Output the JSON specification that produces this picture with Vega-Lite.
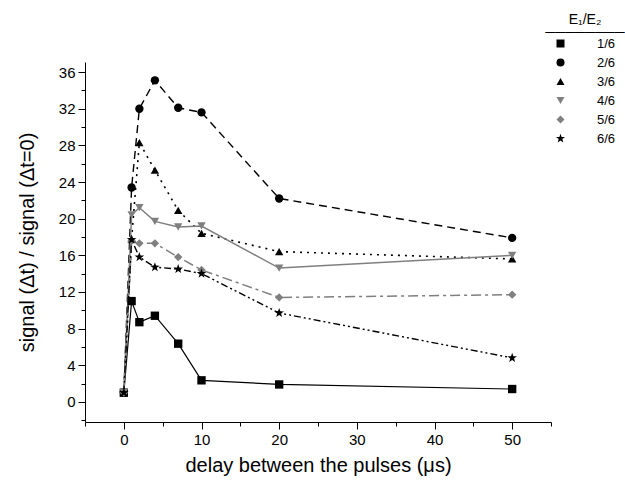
{
  "$schema": "https://vega.github.io/schema/vega-lite/v6.json",
  "width": 466,
  "height": 360,
  "autosize": "none",
  "padding": {"left": 85, "top": 62, "right": 74, "bottom": 59},
  "background": "white",
  "config": {
    "view": {"stroke": null},
    "font": "Liberation Sans",
    "axis": {
      "labelFont": "Liberation Sans",
      "titleFont": "Liberation Sans",
      "labelFontSize": 15,
      "titleFontSize": 20,
      "titleFontWeight": "normal",
      "labelColor": "#000",
      "titleColor": "#000",
      "domainColor": "#000",
      "tickColor": "#000",
      "grid": false
    },
    "legend": {
      "labelFont": "Liberation Sans",
      "titleFont": "Liberation Sans",
      "labelFontSize": 13,
      "titleFontSize": 14,
      "titleFontWeight": "normal",
      "labelColor": "#000",
      "titleColor": "#000"
    }
  },
  "data": {
    "values": [
      {"series": "1/6", "delay": 0, "ratio": 1.0},
      {"series": "1/6", "delay": 1, "ratio": 11.0},
      {"series": "1/6", "delay": 2, "ratio": 8.7},
      {"series": "1/6", "delay": 4, "ratio": 9.4},
      {"series": "1/6", "delay": 7, "ratio": 6.35},
      {"series": "1/6", "delay": 10, "ratio": 2.35},
      {"series": "1/6", "delay": 20, "ratio": 1.9},
      {"series": "1/6", "delay": 50, "ratio": 1.4},
      {"series": "2/6", "delay": 0, "ratio": 1.0},
      {"series": "2/6", "delay": 1, "ratio": 23.4},
      {"series": "2/6", "delay": 2, "ratio": 32.0},
      {"series": "2/6", "delay": 4, "ratio": 35.1},
      {"series": "2/6", "delay": 7, "ratio": 32.1},
      {"series": "2/6", "delay": 10, "ratio": 31.6},
      {"series": "2/6", "delay": 20, "ratio": 22.2},
      {"series": "2/6", "delay": 50, "ratio": 17.9},
      {"series": "3/6", "delay": 0, "ratio": 1.0},
      {"series": "3/6", "delay": 1, "ratio": 17.8},
      {"series": "3/6", "delay": 2, "ratio": 28.3},
      {"series": "3/6", "delay": 4, "ratio": 25.3},
      {"series": "3/6", "delay": 7, "ratio": 20.9},
      {"series": "3/6", "delay": 10, "ratio": 18.4},
      {"series": "3/6", "delay": 20, "ratio": 16.4},
      {"series": "3/6", "delay": 50, "ratio": 15.6},
      {"series": "4/6", "delay": 0, "ratio": 1.0},
      {"series": "4/6", "delay": 1, "ratio": 20.4},
      {"series": "4/6", "delay": 2, "ratio": 21.2},
      {"series": "4/6", "delay": 4, "ratio": 19.7},
      {"series": "4/6", "delay": 7, "ratio": 19.1},
      {"series": "4/6", "delay": 10, "ratio": 19.2},
      {"series": "4/6", "delay": 20, "ratio": 14.6},
      {"series": "4/6", "delay": 50, "ratio": 16.0},
      {"series": "5/6", "delay": 0, "ratio": 1.0},
      {"series": "5/6", "delay": 1, "ratio": 17.6},
      {"series": "5/6", "delay": 2, "ratio": 17.3},
      {"series": "5/6", "delay": 4, "ratio": 17.3},
      {"series": "5/6", "delay": 7, "ratio": 15.8},
      {"series": "5/6", "delay": 10, "ratio": 14.4},
      {"series": "5/6", "delay": 20, "ratio": 11.4},
      {"series": "5/6", "delay": 50, "ratio": 11.7},
      {"series": "6/6", "delay": 0, "ratio": 1.0},
      {"series": "6/6", "delay": 1, "ratio": 17.7},
      {"series": "6/6", "delay": 2, "ratio": 15.8},
      {"series": "6/6", "delay": 4, "ratio": 14.7},
      {"series": "6/6", "delay": 7, "ratio": 14.5},
      {"series": "6/6", "delay": 10, "ratio": 14.0},
      {"series": "6/6", "delay": 20, "ratio": 9.7},
      {"series": "6/6", "delay": 50, "ratio": 4.8}
    ]
  },
  "resolve": {"axis": {"x": "independent", "y": "independent"}},
  "layer": [
    {
      "transform": [{"filter": {"field": "series", "equal": "1/6"}}],
      "mark": {"type": "line", "color": "#000000", "strokeWidth": 1.2},
      "encoding": {
        "x": {
          "field": "delay", "type": "quantitative",
          "scale": {"domain": [-5, 55], "nice": false, "zero": false},
          "axis": {"orient": "bottom", "values": [0, 10, 20, 30, 40, 50], "tickSize": 7, "labelPadding": 3, "title": "delay between the pulses (μs)", "titlePadding": 8}
        },
        "y": {
          "field": "ratio", "type": "quantitative",
          "scale": {"domain": [-2.2, 37.1], "nice": false, "zero": false},
          "axis": {"orient": "left", "values": [0, 4, 8, 12, 16, 20, 24, 28, 32, 36], "tickSize": 7, "labelPadding": 3, "title": "signal (Δt) / signal (Δt=0)", "titlePadding": 21}
        }
      }
    },
    {
      "transform": [{"filter": {"field": "series", "equal": "2/6"}}],
      "mark": {"type": "line", "color": "#000000", "strokeWidth": 1.4, "strokeDash": [8, 5]},
      "encoding": {
        "x": {"field": "delay", "type": "quantitative", "axis": null},
        "y": {"field": "ratio", "type": "quantitative", "axis": null}
      }
    },
    {
      "transform": [{"filter": {"field": "series", "equal": "3/6"}}],
      "mark": {"type": "line", "color": "#000000", "strokeWidth": 1.6, "strokeDash": [2, 5]},
      "encoding": {
        "x": {"field": "delay", "type": "quantitative", "axis": null},
        "y": {"field": "ratio", "type": "quantitative", "axis": null}
      }
    },
    {
      "transform": [{"filter": {"field": "series", "equal": "4/6"}}],
      "mark": {"type": "line", "color": "#7f7f7f", "strokeWidth": 1.5},
      "encoding": {
        "x": {"field": "delay", "type": "quantitative", "axis": null},
        "y": {"field": "ratio", "type": "quantitative", "axis": null}
      }
    },
    {
      "transform": [{"filter": {"field": "series", "equal": "5/6"}}],
      "mark": {"type": "line", "color": "#7f7f7f", "strokeWidth": 1.5, "strokeDash": [10, 4, 3, 4]},
      "encoding": {
        "x": {"field": "delay", "type": "quantitative", "axis": null},
        "y": {"field": "ratio", "type": "quantitative", "axis": null}
      }
    },
    {
      "transform": [{"filter": {"field": "series", "equal": "6/6"}}],
      "mark": {"type": "line", "color": "#000000", "strokeWidth": 1.4, "strokeDash": [7, 3, 2, 3, 2, 3]},
      "encoding": {
        "x": {"field": "delay", "type": "quantitative", "axis": null},
        "y": {"field": "ratio", "type": "quantitative", "axis": null}
      }
    },
    {
      "mark": {"type": "point", "filled": true, "size": 70, "opacity": 1},
      "encoding": {
        "x": {
          "field": "delay", "type": "quantitative",
          "axis": {"orient": "bottom", "values": [-5, 5, 15, 25, 35, 45, 55], "tickSize": 4, "labels": false, "domain": false, "title": null}
        },
        "y": {
          "field": "ratio", "type": "quantitative",
          "axis": {"orient": "left", "values": [-2, 2, 6, 10, 14, 18, 22, 26, 30, 34], "tickSize": 4, "labels": false, "domain": false, "title": null}
        },
        "color": {
          "field": "series", "type": "nominal",
          "scale": {"domain": ["1/6", "2/6", "3/6", "4/6", "5/6", "6/6"], "range": ["#000000", "#000000", "#000000", "#7f7f7f", "#7f7f7f", "#000000"]}
        },
        "shape": {
          "field": "series", "type": "nominal",
          "scale": {"domain": ["1/6", "2/6", "3/6", "4/6", "5/6", "6/6"], "range": ["square", "circle", "triangle-up", "triangle-down", "diamond", "M0,-1.2L0.282,-0.388L1.141,-0.371L0.457,0.149L0.705,0.971L0,0.48L-0.705,0.971L-0.457,0.149L-1.141,-0.371L-0.282,-0.388Z"]},
          "legend": {
            "title": ["E₁/E₂", "────────"],
            "titleLineHeight": 13,
            "orient": "none",
            "legendX": 460,
            "legendY": -49,
            "titleAnchor": "middle",
            "titlePadding": -3,
            "rowPadding": 5,
            "labelOffset": 30,
            "symbolSize": 64,
            "encode": {
              "symbols": {
                "stroke": {"value": {"expr": "(datum.value === '4/6' || datum.value === '5/6') ? '#7f7f7f' : '#000000'"}},
                "strokeWidth": {"value": 1.2},
                "shape": {"value": {"expr": "datum.value === '1/6' ? 'M-5.3,0H-1.8M1.9,0H5.5M-1,-1H1V1H-1Z' : datum.value === '2/6' ? 'M-5.3,0H-3.3M1.9,0H3.9M-1.1,0A1.1,1.1 0 1,0 1.1,0A1.1,1.1 0 1,0 -1.1,0Z' : datum.value === '3/6' ? 'M-5.3,0H-4.8M-3.3,0H-2.8M2.8,0H3.3M4.8,0H5.3M0,-1.1L1.25,1L-1.25,1Z' : datum.value === '4/6' ? 'M-5.3,0H-1.8M1.9,0H5.5M0,1.1L1.25,-1L-1.25,-1Z' : datum.value === '5/6' ? 'M-5.3,0H-3.3M1.9,0H3.9M0,-1.3L1.3,0L0,1.3L-1.3,0Z' : 'M-5.3,0H-3.5M-2.6,0H-2.1M1.6,0H3.4M4.3,0H4.8M0,-1.3L0.306,-0.421L1.236,-0.402L0.495,0.161L0.764,1.052L0,0.52L-0.764,1.052L-0.495,0.161L-1.236,-0.402L-0.306,-0.421Z'"}}
              }
            }
          }
        }
      }
    }
  ]
}
